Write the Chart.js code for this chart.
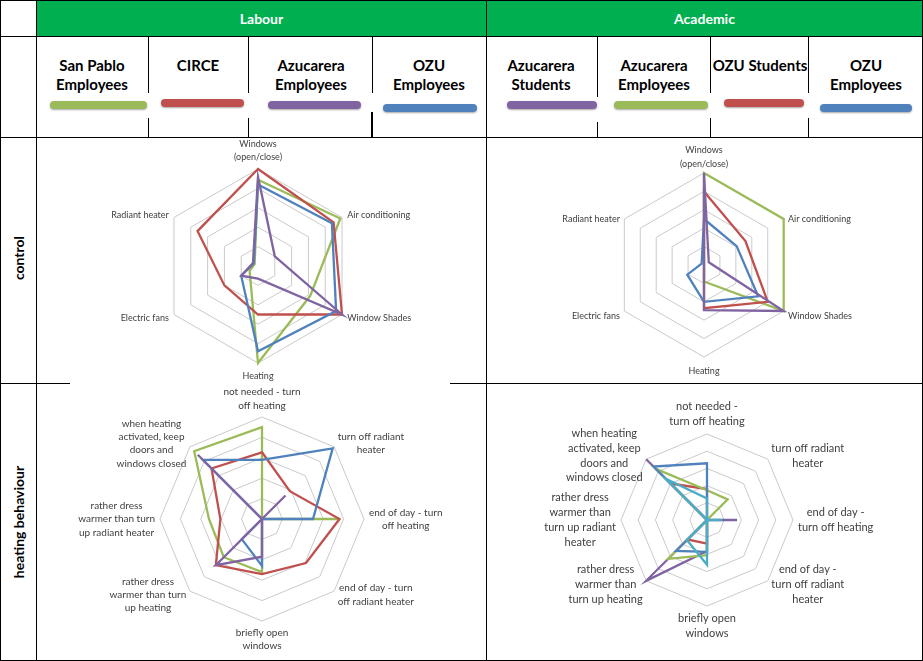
<!DOCTYPE html>
<html>
<head>
<meta charset="utf-8">
<script src="https://cdn.jsdelivr.net/npm/chart.js@4.4.1/dist/chart.umd.min.js"></script>
<style>
  body { margin: 0; background: #fff; }
  #page { position: relative; width: 923px; height: 661px; overflow: hidden; font-family: Lato, "Liberation Sans", sans-serif; }
  .ln { position: absolute; background: #000; }
  .hd { position: absolute; top: 1px; height: 35px; line-height: 35px; color: #fff; font-weight: bold; font-size: 14px; text-align: center; }
  .lg { position: absolute; top: 56px; width: 112px; margin-left: -56px; text-align: center; font-weight: bold; font-size: 15px; line-height: 19px; color: #000; }
  .sw { position: absolute; height: 8px; border-radius: 4px; box-shadow: 0 1px 2px rgba(0,0,0,0.35); }
  .row { position: absolute; left: 18px; font-weight: bold; font-size: 14px; white-space: nowrap; transform: translate(-50%,-50%) rotate(-90deg); }
  canvas { position: absolute; }
</style>
</head>
<body>
<div id="page">
  <div style="position:absolute;left:37px;top:1px;width:885px;height:35px;background:#00B050"></div>
  <div class="hd" style="left:37px;width:449px">Labour</div>
  <div class="hd" style="left:487px;width:435px">Academic</div>

  <!-- table rules -->
  <div class="ln" style="left:0;top:0;width:923px;height:1px"></div>
  <div class="ln" style="left:0;top:36px;width:923px;height:1px"></div>
  <div class="ln" style="left:0;top:137px;width:923px;height:1px"></div>
  <div class="ln" style="left:0;top:383px;width:70px;height:1px"></div>
  <div class="ln" style="left:450px;top:383px;width:473px;height:1px"></div>
  <div class="ln" style="left:0;top:660px;width:923px;height:1px"></div>
  <div class="ln" style="left:0;top:0;width:1px;height:661px"></div>
  <div class="ln" style="left:36px;top:0;width:1px;height:661px"></div>
  <div class="ln" style="left:486px;top:0;width:1px;height:661px"></div>
  <div class="ln" style="left:922px;top:0;width:1px;height:661px"></div>
  <div class="ln" style="left:148px;top:36px;width:1px;height:57px"></div>
  <div class="ln" style="left:148px;top:118px;width:1px;height:19px"></div>
  <div class="ln" style="left:248px;top:36px;width:1px;height:57px"></div>
  <div class="ln" style="left:248px;top:118px;width:1px;height:19px"></div>
  <div class="ln" style="left:372px;top:36px;width:1px;height:57px"></div>
  <div class="ln" style="left:371px;top:112px;width:2px;height:25px"></div>
  <div class="ln" style="left:597px;top:36px;width:1px;height:61px"></div>
  <div class="ln" style="left:597px;top:122px;width:1px;height:15px"></div>
  <div class="ln" style="left:710px;top:36px;width:1px;height:57px"></div>
  <div class="ln" style="left:710px;top:118px;width:1px;height:19px"></div>
  <div class="ln" style="left:808px;top:36px;width:1px;height:57px"></div>
  <div class="ln" style="left:808px;top:118px;width:1px;height:19px"></div>

  <div class="row" style="top:258px">control</div>
  <div class="row" style="top:522px">heating behaviour</div>

  <div id="legend"></div>

  <canvas id="c1"></canvas>
  <canvas id="c2"></canvas>
  <canvas id="c3"></canvas>
  <canvas id="c4"></canvas>
</div>

<script>
// colours
const GREEN = "#9BBB59", RED = "#C0504D", PURPLE = "#8064A2", BLUE = "#4F81BD", TEAL = "#4BACC6";

// groups (legend row), one entry per printed line
const labourGroups = [["San Pablo", "Employees"], ["CIRCE"], ["Azucarera", "Employees"], ["OZU", "Employees"]];
const academicGroups = [["Azucarera", "Students"], ["Azucarera", "Employees"], ["OZU Students"], ["OZU", "Employees"]];

// axes
const controlAxes = [["Windows", "(open/close)"], "Air conditioning", "Window Shades", "Heating", "Electric fans", "Radiant heater"];
const heatingAxesLabour = [
  ["not needed - turn", "off heating"], ["turn off radiant", "heater"], ["end of day - turn", "off heating"],
  ["end of day - turn", "off radiant heater"], ["briefly open", "windows"],
  ["rather dress", "warmer than turn", "up heating"], ["rather dress", "warmer than turn", "up radiant heater"],
  ["when heating", "activated, keep", "doors and", "windows closed"]
];
const heatingAxesAcademic = [
  ["not needed -", "turn off heating"], ["turn off radiant", "heater"], ["end of day -", "turn off heating"],
  ["end of day -", "turn off radiant", "heater"], ["briefly open", "windows"],
  ["rather dress", "warmer than", "turn up heating"], ["rather dress", "warmer than", "turn up radiant", "heater"],
  ["when heating", "activated, keep", "doors and", "windows closed"]
];
const scaleTicks = [0, 1, 2, 3, 4, 5];

// control - Labour
const ctlSanPablo = [4.45, 4.9, 3.1, 5, 0.5, 0.2];
const ctlCirce = [5, 4.5, 5, 2.5, 2.0, 3.6];
const ctlAzuEmp = [4.6, 1.0, 5, 0.65, 1.0, 0.3];
const ctlOzuEmp = [4.2, 4.4, 4.65, 4.4, 1.0, 0.25];

// control - Academic
const ctlAzuStuA = [5, 0.3, 5, 2.45, 0, 0];
const ctlAzuEmpA = [5, 5, 5, 0.9, 0, 0];
const ctlOzuStuA = [4.0, 2.6, 4.0, 2.35, 0, 0];
const ctlOzuEmpA = [2.5, 2.05, 3.4, 2.0, 1.05, 0.15];

// heating behaviour - Labour
const heatSanPablo = [4.5, 0, 3.8, 0, 2.6, 2.65, 2.6, 4.7];
const heatCirce = [3.27, 1.93, 3.8, 3.05, 2.7, 3.2, 2.04, 3.5];
const heatAzuEmp = [0, 1.63, 0, 0, 1.85, 3.2, 0, 4.45];
const heatOzuEmp = [2.9, 4.9, 2.5, 0, 2.3, 1.4, 0, 4.1];

// heating behaviour - Academic
const heatAzuStuA = [0, 0, 1.75, 0, 1.8, 5, 0, 5];
const heatAzuEmpA = [1.73, 1.7, 0, 0, 2.05, 3.2, 0, 4.2];
const heatOzuStuA = [1.8, 0, 0, 0, 1.37, 1.6, 0, 3.0];
const heatOzuEmpA = [3.3, 0, 0, 0, 1.85, 2.55, 0, 4.4];
const heatOtherA = [1.25, 0, 0.87, 0, 2.6, 1.65, 0, 3.4];

const name = g => g.join(" ");

// legend row (text + swatches)
const legend = document.getElementById("legend");
function addLegend(lines, cx, color, sx, sy, sw) {
  const t = document.createElement("div");
  t.className = "lg";
  t.style.left = cx + "px";
  t.innerHTML = lines.join("<br>");
  legend.appendChild(t);
  const s = document.createElement("div");
  s.className = "sw";
  s.style.left = sx + "px";
  s.style.top = sy + "px";
  s.style.width = sw + "px";
  s.style.background = color;
  legend.appendChild(s);
}
addLegend(labourGroups[0], 92, GREEN, 50, 101, 97);
addLegend(labourGroups[1], 198, RED, 161, 99, 83);
addLegend(labourGroups[2], 311, PURPLE, 268, 101, 93);
addLegend(labourGroups[3], 429, BLUE, 383, 104, 94);
addLegend(academicGroups[0], 541, PURPLE, 507, 101, 90);
addLegend(academicGroups[1], 654, GREEN, 614, 101, 94);
addLegend(academicGroups[2], 760, RED, 724, 99, 80);
addLegend(academicGroups[3], 866, BLUE, 820, 104, 92);

// axis labels drawn at the scale's own point positions
const axisLabels = {
  id: "axisLabels",
  afterDraw(chart, args, opts) {
    const scale = chart.scales.r;
    const ctx = chart.ctx;
    ctx.save();
    ctx.font = opts.size + "px Lato, 'Liberation Sans', sans-serif";
    ctx.fillStyle = "#404040";
    ctx.textAlign = "center";
    ctx.textBaseline = "middle";
    chart.data.labels.forEach((lab, i) => {
      const lines = Array.isArray(lab) ? lab : [lab];
      const w = Math.max(...lines.map(l => ctx.measureText(l).width));
      const h = lines.length * opts.lh;
      const p = scale.getPointPosition(i, scale.drawingArea + opts.gap);
      const cos = Math.cos(p.angle), sin = Math.sin(p.angle);
      let x, y;
      if (Math.abs(cos) < 0.05) {
        x = p.x;
        y = sin < 0 ? p.y - h / 2 : p.y + h / 2;
      } else {
        x = cos > 0 ? p.x + w / 2 : p.x - w / 2;
        y = p.y;
      }
      y += opts.dy || 0;
      lines.forEach((l, k) => ctx.fillText(l, x, y - h / 2 + opts.lh * (k + 0.5)));
    });
    ctx.restore();
  }
};

function ds(label, data, color) {
  return { label: label, data: data, borderColor: color, backgroundColor: "transparent",
           borderWidth: 2.3, pointRadius: 0, fill: false, clip: false, tension: 0 };
}

function radar(id, labels, datasets, cx, cy, R, pad, font) {
  const canvas = document.getElementById(id);
  canvas.width = 2 * R + 2 * pad;
  canvas.height = 2 * R + 2 * pad;
  const chart = new Chart(canvas, {
    type: "radar",
    data: { labels: labels, datasets: datasets },
    options: {
      responsive: false,
      animation: false,
      layout: { padding: pad },
      plugins: { legend: { display: false }, tooltip: { enabled: false }, axisLabels: font },
      scales: {
        r: {
          min: scaleTicks[0], max: scaleTicks[scaleTicks.length - 1],
          ticks: { display: false, stepSize: 1 },
          grid: { color: "#CACACA", lineWidth: 1 },
          angleLines: { display: false },
          pointLabels: { display: false }
        }
      }
    },
    plugins: [axisLabels]
  });
  const s = chart.scales.r;
  canvas.style.left = Math.round(cx - s.xCenter) + "px";
  canvas.style.top = Math.round(cy - s.yCenter) + "px";
  return chart;
}

radar("c1", controlAxes, [
  ds(name(labourGroups[2]), ctlAzuEmp, PURPLE),
  ds(name(labourGroups[3]), ctlOzuEmp, BLUE),
  ds(name(labourGroups[1]), ctlCirce, RED),
  ds(name(labourGroups[0]), ctlSanPablo, GREEN)
], 258, 266, 97, 73, { size: 9, lh: 13, gap: 6, dy: 1 });

radar("c2", controlAxes, [
  ds(name(academicGroups[0]), ctlAzuStuA, PURPLE),
  ds(name(academicGroups[3]), ctlOzuEmpA, BLUE),
  ds(name(academicGroups[2]), ctlOzuStuA, RED),
  ds(name(academicGroups[1]), ctlAzuEmpA, GREEN)
], 704, 265, 92, 78, { size: 9, lh: 13.5, gap: 5, dy: 2.5 });

radar("c3", heatingAxesLabour, [
  ds(name(labourGroups[2]), heatAzuEmp, PURPLE),
  ds(name(labourGroups[3]), heatOzuEmp, BLUE),
  ds(name(labourGroups[1]), heatCirce, RED),
  ds(name(labourGroups[0]), heatSanPablo, GREEN)
], 262, 519, 102, 88, { size: 10, lh: 13.3, gap: 5 });

radar("c4", heatingAxesAcademic, [
  ds("", heatOtherA, TEAL),
  ds(name(academicGroups[3]), heatOzuEmpA, BLUE),
  ds(name(academicGroups[1]), heatAzuEmpA, GREEN),
  ds(name(academicGroups[2]), heatOzuStuA, RED),
  ds(name(academicGroups[0]), heatAzuStuA, PURPLE)
], 707, 520, 86, 94, { size: 11, lh: 14.7, gap: 5 });
</script>
</body>
</html>
